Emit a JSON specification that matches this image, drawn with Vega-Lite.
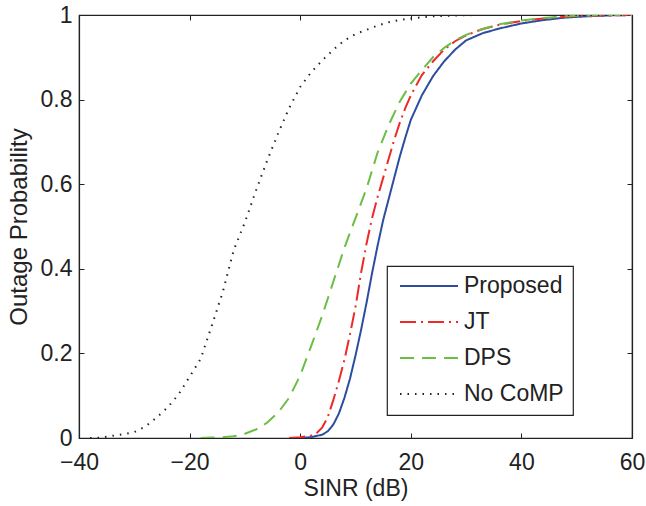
{
  "$schema": "https://vega.github.io/schema/vega-lite/v6.json",
  "autosize": "none",
  "width": 553,
  "height": 423,
  "padding": {"left": 79, "top": 15, "right": 14, "bottom": 68},
  "background": "white",
  "data": {"values": [
    {"s":"Proposed","x":0,"y":0},{"s":"Proposed","x":2,"y":0.002},{"s":"Proposed","x":4,"y":0.008},{"s":"Proposed","x":5,"y":0.016},{"s":"Proposed","x":6,"y":0.032},{"s":"Proposed","x":7,"y":0.058},{"s":"Proposed","x":8,"y":0.095},{"s":"Proposed","x":9,"y":0.14},{"s":"Proposed","x":10,"y":0.195},{"s":"Proposed","x":11,"y":0.255},{"s":"Proposed","x":12,"y":0.32},{"s":"Proposed","x":13,"y":0.39},{"s":"Proposed","x":14,"y":0.455},{"s":"Proposed","x":15,"y":0.515},{"s":"Proposed","x":16,"y":0.565},{"s":"Proposed","x":17,"y":0.615},{"s":"Proposed","x":18,"y":0.665},{"s":"Proposed","x":19,"y":0.71},{"s":"Proposed","x":20,"y":0.752},{"s":"Proposed","x":22,"y":0.81},{"s":"Proposed","x":24,"y":0.855},{"s":"Proposed","x":26,"y":0.89},{"s":"Proposed","x":28,"y":0.918},{"s":"Proposed","x":30,"y":0.94},{"s":"Proposed","x":33,"y":0.957},{"s":"Proposed","x":36,"y":0.968},{"s":"Proposed","x":40,"y":0.98},{"s":"Proposed","x":44,"y":0.988},{"s":"Proposed","x":48,"y":0.994},{"s":"Proposed","x":52,"y":0.997},{"s":"Proposed","x":56,"y":0.999},{"s":"Proposed","x":60,"y":1.0},
    {"s":"JT","x":-2,"y":0},{"s":"JT","x":0,"y":0.002},{"s":"JT","x":2,"y":0.006},{"s":"JT","x":3,"y":0.012},{"s":"JT","x":4,"y":0.025},{"s":"JT","x":5,"y":0.05},{"s":"JT","x":6,"y":0.09},{"s":"JT","x":7,"y":0.135},{"s":"JT","x":8,"y":0.185},{"s":"JT","x":9,"y":0.245},{"s":"JT","x":10,"y":0.31},{"s":"JT","x":11,"y":0.39},{"s":"JT","x":12,"y":0.46},{"s":"JT","x":13,"y":0.52},{"s":"JT","x":14,"y":0.57},{"s":"JT","x":15,"y":0.615},{"s":"JT","x":16,"y":0.66},{"s":"JT","x":17,"y":0.705},{"s":"JT","x":18,"y":0.745},{"s":"JT","x":19,"y":0.78},{"s":"JT","x":20,"y":0.81},{"s":"JT","x":22,"y":0.858},{"s":"JT","x":24,"y":0.89},{"s":"JT","x":26,"y":0.918},{"s":"JT","x":28,"y":0.938},{"s":"JT","x":30,"y":0.952},{"s":"JT","x":33,"y":0.967},{"s":"JT","x":36,"y":0.977},{"s":"JT","x":40,"y":0.986},{"s":"JT","x":44,"y":0.992},{"s":"JT","x":48,"y":0.996},{"s":"JT","x":52,"y":0.998},{"s":"JT","x":56,"y":0.999},{"s":"JT","x":60,"y":1.0},
    {"s":"DPS","x":-18,"y":0},{"s":"DPS","x":-16,"y":0.001},{"s":"DPS","x":-14,"y":0.002},{"s":"DPS","x":-12,"y":0.004},{"s":"DPS","x":-10,"y":0.01},{"s":"DPS","x":-8,"y":0.02},{"s":"DPS","x":-6,"y":0.036},{"s":"DPS","x":-4,"y":0.06},{"s":"DPS","x":-2,"y":0.095},{"s":"DPS","x":0,"y":0.148},{"s":"DPS","x":2,"y":0.218},{"s":"DPS","x":4,"y":0.29},{"s":"DPS","x":6,"y":0.37},{"s":"DPS","x":8,"y":0.45},{"s":"DPS","x":10,"y":0.52},{"s":"DPS","x":12,"y":0.59},{"s":"DPS","x":14,"y":0.675},{"s":"DPS","x":16,"y":0.74},{"s":"DPS","x":18,"y":0.795},{"s":"DPS","x":20,"y":0.838},{"s":"DPS","x":22,"y":0.87},{"s":"DPS","x":24,"y":0.9},{"s":"DPS","x":26,"y":0.922},{"s":"DPS","x":28,"y":0.94},{"s":"DPS","x":30,"y":0.953},{"s":"DPS","x":33,"y":0.967},{"s":"DPS","x":36,"y":0.978},{"s":"DPS","x":40,"y":0.987},{"s":"DPS","x":44,"y":0.993},{"s":"DPS","x":48,"y":0.997},{"s":"DPS","x":52,"y":0.999},{"s":"DPS","x":56,"y":1.0},{"s":"DPS","x":60,"y":1.0},
    {"s":"No CoMP","x":-38,"y":0},{"s":"No CoMP","x":-36,"y":0.001},{"s":"No CoMP","x":-34,"y":0.005},{"s":"No CoMP","x":-32,"y":0.009},{"s":"No CoMP","x":-30,"y":0.014},{"s":"No CoMP","x":-28,"y":0.027},{"s":"No CoMP","x":-26,"y":0.048},{"s":"No CoMP","x":-24,"y":0.072},{"s":"No CoMP","x":-22,"y":0.103},{"s":"No CoMP","x":-20,"y":0.145},{"s":"No CoMP","x":-18,"y":0.187},{"s":"No CoMP","x":-16,"y":0.265},{"s":"No CoMP","x":-14,"y":0.345},{"s":"No CoMP","x":-12,"y":0.445},{"s":"No CoMP","x":-10,"y":0.51},{"s":"No CoMP","x":-8,"y":0.585},{"s":"No CoMP","x":-6,"y":0.655},{"s":"No CoMP","x":-4,"y":0.72},{"s":"No CoMP","x":-2,"y":0.78},{"s":"No CoMP","x":0,"y":0.83},{"s":"No CoMP","x":2,"y":0.865},{"s":"No CoMP","x":4,"y":0.893},{"s":"No CoMP","x":6,"y":0.918},{"s":"No CoMP","x":8,"y":0.94},{"s":"No CoMP","x":10,"y":0.955},{"s":"No CoMP","x":12,"y":0.965},{"s":"No CoMP","x":14,"y":0.975},{"s":"No CoMP","x":16,"y":0.983},{"s":"No CoMP","x":18,"y":0.988},{"s":"No CoMP","x":20,"y":0.992},{"s":"No CoMP","x":24,"y":0.997},{"s":"No CoMP","x":28,"y":0.999},{"s":"No CoMP","x":32,"y":1.0},{"s":"No CoMP","x":60,"y":1.0}
  ]},
  "layer": [
    {
      "mark": {"type": "line", "strokeWidth": 2, "clip": true},
      "encoding": {
        "x": {"field": "x", "type": "quantitative",
          "scale": {"domain": [-40, 60], "nice": false, "zero": false},
          "axis": {"orient": "bottom", "values": [-40, -20, 0, 20, 40, 60], "format": "d", "title": "SINR (dB)", "labelPadding": 18, "titlePadding": 3, "titleFontSize": 23}},
        "y": {"field": "y", "type": "quantitative",
          "scale": {"domain": [0, 1], "nice": false},
          "axis": {"orient": "left", "values": [0, 0.2, 0.4, 0.6, 0.8, 1], "labelExpr": "datum.value == 0 ? '0' : datum.value == 1 ? '1' : format(datum.value, '.1f')", "title": "Outage Probability", "labelPadding": 12, "titlePadding": 9, "titleFontSize": 24}},
        "color": {"field": "s", "type": "nominal",
          "scale": {"domain": ["Proposed", "JT", "DPS", "No CoMP"], "range": ["#2c4da0", "#ee2a28", "#6cbd45", "#222222"]},
          "legend": {"title": null}},
        "strokeDash": {"field": "s", "type": "nominal",
          "scale": {"domain": ["Proposed", "JT", "DPS", "No CoMP"], "range": [[1, 0], [16, 5, 2, 5], [14, 8], [1.5, 6]]},
          "legend": {"title": null}},
        "order": {"field": "x", "type": "quantitative"}
      }
    },
    {
      "mark": {"type": "point", "opacity": 0, "size": 0},
      "encoding": {
        "x": {"field": "x", "type": "quantitative",
          "axis": {"orient": "top", "values": [-40, -20, 0, 20, 40, 60], "labels": false, "title": null}},
        "y": {"field": "y", "type": "quantitative",
          "axis": {"orient": "right", "values": [0, 0.2, 0.4, 0.6, 0.8, 1], "labels": false, "title": null}}
      }
    }
  ],
  "resolve": {"axis": {"x": "independent", "y": "independent"}},
  "config": {
    "view": {"stroke": "#222", "strokeWidth": 1.2},
    "axis": {
      "domainColor": "#222", "domainWidth": 1.2, "tickColor": "#222", "tickWidth": 1, "tickSize": -5,
      "labelColor": "#222", "titleColor": "#222",
      "labelFont": "Liberation Sans", "titleFont": "Liberation Sans",
      "labelFontSize": 23, "titleFontWeight": "normal",
      "grid": false, "labelFlush": false, "labelOverlap": false
    },
    "legend": {
      "orient": "none", "legendX": 308, "legendY": 251,
      "direction": "vertical",
      "labelFont": "Liberation Sans", "labelFontSize": 23, "labelColor": "#222",
      "symbolType": "stroke", "symbolSize": 3364, "symbolStrokeWidth": 2,
      "clipHeight": 22, "rowPadding": 13, "padding": 9,
      "symbolOffset": 3, "labelOffset": 5,
      "strokeColor": "#222", "strokeWidth": 1.2, "fillColor": "white"
    }
  }
}
